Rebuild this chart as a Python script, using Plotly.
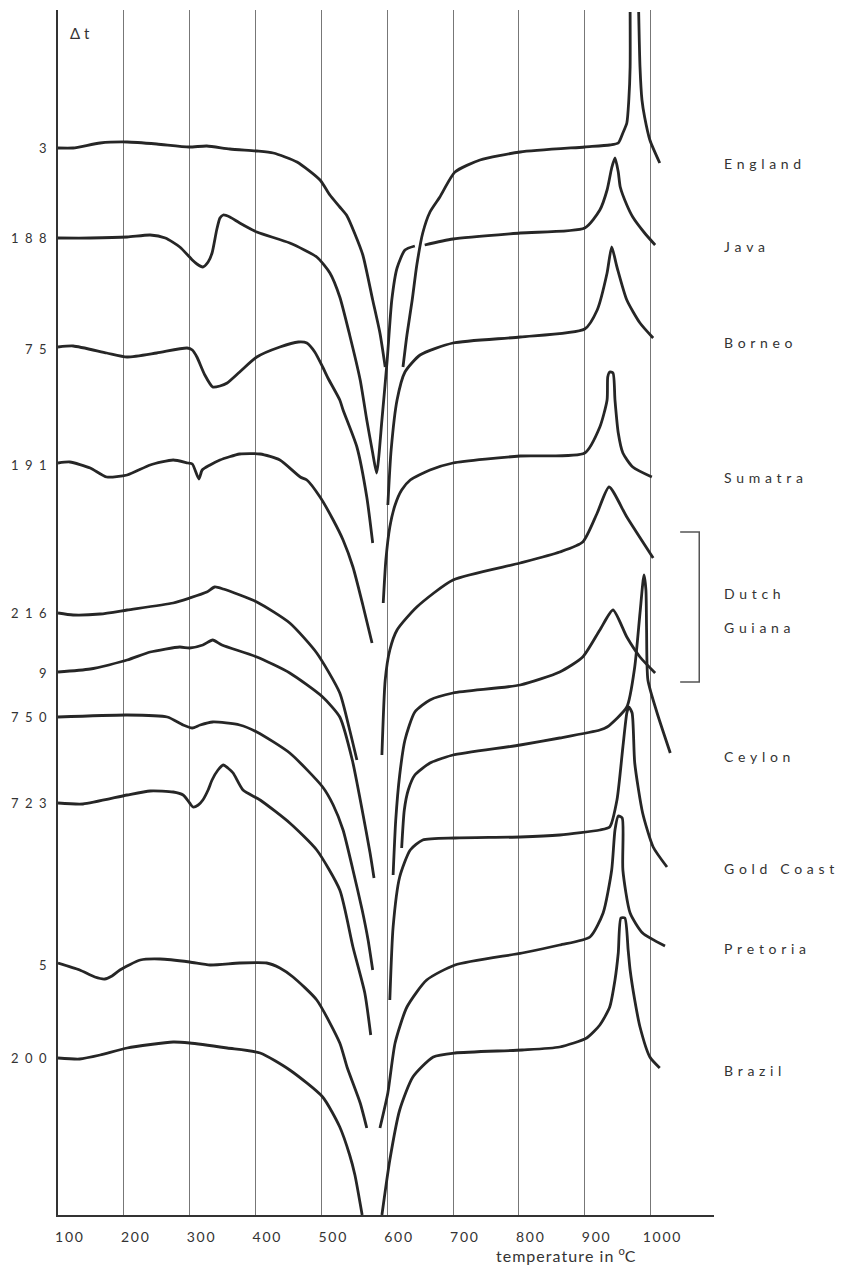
import plotly.graph_objects as go

# ---------------- data: temperature (deg C) vs. deflection (arbitrary units, 0 = bottom axis)
england_T = [100, 123, 164, 205, 250, 299, 326, 361, 402, 427, 463, 498, 513, 528, 539, 551, 563, 578, 589, 597, None,
             624, 630, 638, 645, 654, 665, 680, 703, 741, 802, 900, 938, 951, 958, 964, 967, 969, 969, None,
             982, 984, 987, 991, 999, 1014]
england_dt = [1067, 1067, 1072, 1073, 1071, 1068, 1069, 1066, 1064, 1062, 1053, 1035, 1020, 1008, 999, 981, 960, 915, 882, 848, None,
              848, 880, 915, 950, 982, 1003, 1018, 1043, 1055, 1063, 1068, 1070, 1072, 1082, 1092, 1115, 1148, 1203, None,
              1203, 1148, 1115, 1098, 1075, 1052]

java_T = [100, 149, 205, 240, 263, 285, 304, 311, 320, 328, 334, 341, 346, 351, 361, 376, 402, 452, 493, 513, 528, 543, 559, 569, 578, 584,
          592, 600, 607, 615, 627, 642, None,
          657, 700, 802, 900, 923, 934, 941, 946, 951, 954, 964, 973, 991, 1007]
java_dt = [977, 977, 978, 980, 977, 968, 955, 951, 948, 953, 962, 985, 997, 1000, 998, 992, 983, 972, 958, 942, 918, 880, 835, 795, 762, 742,
           795, 855, 915, 947, 965, 969, None,
           970, 976, 982, 987, 1005, 1025, 1047, 1057, 1043, 1028, 1010, 998, 982, 970]

borneo_T = [100, 123, 174, 205, 250, 296, 304, 311, 323, 335, 346, 357, 376, 402, 437, 465, 478, 490, 502, 510, 528, 533, 554, 569, 578, None,
            601, 606, 615, 627, 650, 700, 802, 900, 919, 934, 941, 949, 964, 984, 1004]
borneo_dt = [868, 869, 862, 858, 862, 867, 865, 858, 840, 828, 829, 832, 843, 858, 868, 873, 872, 863, 848, 837, 815, 805, 768, 718, 672, None,
             710, 765, 815, 843, 860, 872, 878, 886, 905, 942, 968, 948, 915, 892, 877]

sumatra_T = [100, 118, 149, 174, 205, 240, 275, 297, 304, 314, 319, 331, 346, 376, 407, 437, 468, 478, 498, 518, 533, 548, 563, 577, None,
             594, 598, 604, 612, 622, 635, 665, 700, 802, 900, 923, 934, 935, 938, 943, 946, 951, 958, 973, 1002]
sumatra_dt = [752, 753, 747, 738, 740, 750, 755, 752, 751, 736, 745, 750, 755, 761, 761, 755, 738, 735, 718, 695, 675, 648, 610, 572, None,
              612, 655, 688, 710, 725, 735, 745, 752, 759, 762, 788, 815, 838, 843, 842, 815, 782, 762, 748, 738]

guiana216_T = [100, 123, 164, 205, 275, 300, 326, 338, 351, 402, 452, 493, 528, 543, 554, None,
               592, 597, 604, 615, 645, 700, 802, 862, 897, 919, 937, 964, 1004]
guiana216_dt = [602, 600, 601, 605, 612, 617, 623, 628, 626, 613, 592, 562, 522, 485, 455, None,
                460, 535, 565, 585, 608, 635, 652, 663, 673, 702, 728, 698, 657]

guiana9_T = [100, 149, 205, 240, 285, 300, 320, 335, 349, 402, 452, 502, 528, 547, 562, 574, 580, None,
             609, 613, 619, 627, 642, 665, 700, 802, 862, 897, 923, 943, 964, 984, 1007]
guiana9_dt = [543, 546, 555, 563, 568, 567, 570, 575, 570, 558, 542, 518, 498, 455, 405, 362, 337, None,
              340, 395, 440, 475, 503, 515, 522, 530, 543, 558, 585, 605, 578, 558, 542]

ceylon_T = [100, 205, 266, 290, 304, 316, 335, 376, 402, 452, 502, 518, 533, 548, 562, 571, 578, None,
            622, 626, 632, 642, 665, 685, 700, 802, 862, 923, 934, 964, 976, 984, 990, 993, 994, 996, 1010, 1030]
ceylon_dt = [498, 500, 498, 490, 487, 490, 493, 490, 483, 462, 428, 410, 385, 345, 305, 275, 245, None,
             367, 405, 425, 440, 452, 457, 460, 470, 477, 485, 488, 508, 548, 602, 640, 625, 585, 535, 502, 462]

goldcoast_T = [100, 138, 205, 240, 275, 290, 300, 305, 313, 320, 328, 334, 343, 351, 358, 366, 381, 407, 452, 493, 528, 548, 566, 575, None,
               604, 609, 619, 635, 654, 703, 802, 862, 923, 938, 949, 958, 964, 967, 972, 976, 988, 1004, 1025]
goldcoast_dt = [412, 411, 420, 424, 423, 420, 412, 408, 410, 415, 425, 435, 445, 450, 447, 442, 425, 415, 392, 365, 325, 268, 222, 180, None,
                215, 288, 338, 365, 375, 377, 378, 380, 385, 388, 415, 468, 502, 508, 502, 452, 402, 368, 348]

pretoria_T = [100, 133, 156, 171, 182, 194, 225, 255, 300, 331, 376, 417, 437, 457, 493, 528, 539, 559, 569, None,
              589, 601, 612, 630, 660, 703, 805, 862, 908, 928, 941, 946, 951, 957, 958, 969, 988, 1022]
pretoria_dt = [252, 245, 238, 236, 239, 245, 255, 256, 253, 250, 252, 252, 247, 238, 215, 172, 148, 112, 87, None,
               87, 122, 172, 208, 235, 250, 262, 270, 278, 302, 345, 385, 399, 397, 345, 302, 282, 269]

brazil_T = [100, 133, 164, 205, 275, 300, 357, 407, 452, 502, 528, 543, 551, 562, None,
            592, 604, 619, 639, 670, 703, 805, 862, 903, 923, 938, 946, 951, 955, 961, 966, 969, 976, 984, 999, 1014]
brazil_dt = [157, 156, 160, 167, 173, 172, 167, 162, 145, 118, 88, 60, 40, 0, None,
             0, 55, 105, 138, 158, 162, 165, 168, 177, 190, 208, 235, 262, 297, 297, 265, 245, 215, 188, 158, 147]

curves = [
    (england_T, england_dt), (java_T, java_dt), (borneo_T, borneo_dt), (sumatra_T, sumatra_dt),
    (guiana216_T, guiana216_dt), (guiana9_T, guiana9_dt), (ceylon_T, ceylon_dt),
    (goldcoast_T, goldcoast_dt), (pretoria_T, pretoria_dt), (brazil_T, brazil_dt),
]

# sample numbers at the left, with the level of each label
sample_labels = ["3", "188", "75", "191", "216", "9", "750", "723", "5", "200"]
sample_levels = [1067, 977, 866, 750, 602, 542, 498, 412, 250, 157]

# origins at the right, with the level of each label
origin_labels = ["England", "Java", "Borneo", "Sumatra", "Dutch", "Guiana", "Ceylon", "Gold Coast", "Pretoria", "Brazil"]
origin_levels = [1052, 969, 873, 738, 622, 588, 459, 347, 267, 145]

tick_values = [100, 200, 300, 400, 500, 600, 700, 800, 900, 1000]
tick_labels = ["100", "200", "300", "400", "500", "600", "700", "800", "900", "1000"]

INK = "#262626"
FONT = "Lato, 'DejaVu Sans', sans-serif"


def spaced(s, sep):
    return sep.join(list(s))


fig = go.Figure()
for T, dt in curves:
    fig.add_trace(go.Scatter(x=T, y=dt, mode="lines",
                             line=dict(color=INK, width=2.8, shape="spline", smoothing=0.6),
                             connectgaps=False, showlegend=False, hoverinfo="skip"))

for lab, lev in zip(sample_labels, sample_levels):
    fig.add_annotation(xref="paper", yref="y", x=-0.014, y=lev, text=spaced(lab, "\u2002"),
                       showarrow=False, xanchor="right", yanchor="middle",
                       font=dict(family=FONT, size=13, color="#333"))

for lab, lev in zip(origin_labels, origin_levels):
    fig.add_annotation(xref="paper", yref="y", x=1.012, y=lev, text=spaced(lab, "\u2004"),
                       showarrow=False, xanchor="left", yanchor="middle",
                       font=dict(family=FONT, size=14, color="#333"))

fig.add_annotation(xref="paper", yref="y", x=0.0335, y=1182, text="\u0394\u2005t", showarrow=False,
                   xanchor="center", yanchor="middle", font=dict(family=FONT, size=15, color="#333"))

fig.add_annotation(xref="paper", yref="paper", x=0.775, y=-0.033,
                   text=spaced("temperature in ", "\u200a") + "<sup>o</sup>C",
                   showarrow=False, xanchor="center", yanchor="middle",
                   font=dict(family=FONT, size=16, color="#333"))

# bracket grouping the two Dutch Guiana samples
fig.add_shape(type="path", xref="x", yref="y", path="M 1045,683 L 1074,683 L 1074,533 L 1045,533",
              line=dict(color="#555", width=1.5))

fig.update_layout(
    width=849, height=1268,
    margin=dict(l=58, r=135, t=10, b=53),
    paper_bgcolor="white", plot_bgcolor="white",
    xaxis=dict(range=[100, 1096.4], tickvals=tick_values,
               ticktext=[spaced(t, "\u2009") for t in tick_labels],
               showgrid=True, gridcolor="#777", gridwidth=1,
               showline=True, linecolor="#333", linewidth=2, zeroline=False,
               ticks="", ticklabelshift=11, ticklabelstandoff=8,
               tickfont=dict(family=FONT, size=14, color="#333")),
    yaxis=dict(range=[0, 1205], showgrid=False, showticklabels=False, ticks="",
               showline=True, linecolor="#333", linewidth=2, zeroline=False),
)

fig.write_html("out.html", config={"displayModeBar": False},
               post_script="document.body.style.margin='0px';")
